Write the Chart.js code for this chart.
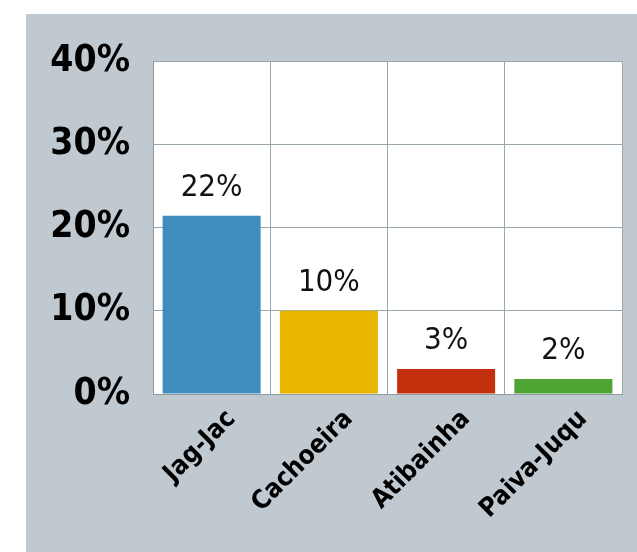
<!DOCTYPE html>
<html>
<head>
<meta charset="utf-8">
<script src="https://cdn.jsdelivr.net/npm/chart.js"></script>
<style>
  html, body { margin: 0; padding: 0; background: #fff; }
  #wrap { width: 637px; height: 552px; }
</style>
</head>
<body>
<div id="wrap"><canvas id="chart"></canvas></div>
<script>
// chart data
const categories = ['Jag-Jac', 'Cachoeira', 'Atibainha', 'Paiva-Juqu'];
const shares = [21.4, 10, 3, 1.8];
const shareLabels = ['22%', '10%', '3%', '2%'];
const barColors = ['#408cbe', '#e9b600', '#c4300e', '#4ea333'];
const yTicks = [0, 10, 20, 30, 40];

const FONT = '"DejaVu Sans Condensed", "Liberation Sans", sans-serif';

// grey panel behind everything, white plot area
const panelPlugin = {
  id: 'panel',
  beforeDraw(chart) {
    const { ctx, chartArea: a } = chart;
    ctx.save();
    ctx.fillStyle = '#fff';
    ctx.fillRect(0, 0, chart.width, chart.height);
    ctx.fillStyle = '#bfc9cf';
    ctx.fillRect(26, 14, chart.width - 26, chart.height - 14);
    ctx.fillStyle = '#fff';
    ctx.fillRect(a.left, a.top, a.right - a.left, a.bottom - a.top);
    ctx.restore();
  }
};

// value labels above the bars
const valueLabels = {
  id: 'valueLabels',
  afterDatasetsDraw(chart) {
    const { ctx } = chart;
    const meta = chart.getDatasetMeta(0);
    ctx.save();
    ctx.fillStyle = '#111';
    ctx.font = '31px ' + FONT;
    ctx.textAlign = 'center';
    ctx.textBaseline = 'alphabetic';
    meta.data.forEach((bar, i) => {
      ctx.fillText(shareLabels[i], bar.x, bar.y - 20);
    });
    ctx.restore();
  }
};

new Chart(document.getElementById('chart'), {
  type: 'bar',
  data: {
    labels: categories,
    datasets: [{
      data: shares,
      backgroundColor: barColors,
      borderWidth: 0,
      categoryPercentage: 1,
      barPercentage: 0.836
    }]
  },
  options: {
    responsive: true,
    maintainAspectRatio: false,
    animation: false,
    layout: { padding: { left: 0, top: 61, right: 15, bottom: 0 } },
    plugins: {
      legend: { display: false },
      tooltip: { enabled: false }
    },
    scales: {
      x: {
        grid: { color: '#9ba7af', lineWidth: 1, drawTicks: false, offset: true },
        border: { color: '#8f9aa2', width: 1 },
        ticks: {
          color: '#000',
          font: { family: FONT, size: 26, weight: 'bold' },
          minRotation: 45,
          maxRotation: 45,
          padding: 10,
          labelOffset: 20
        },
        afterFit(scale) { scale.height = 158; }
      },
      y: {
        min: 0,
        max: 40,
        afterBuildTicks(scale) { scale.ticks = yTicks.map(v => ({ value: v })); },
        grid: { color: '#9ba7af', lineWidth: 1, drawTicks: false },
        border: { color: '#8f9aa2', width: 1 },
        ticks: {
          color: '#000',
          font: { family: FONT, size: 37, weight: 'bold' },
          padding: 23,
          callback: v => v + '%'
        },
        afterFit(scale) { scale.width = 153; }
      }
    }
  },
  plugins: [panelPlugin, valueLabels]
});
</script>
</body>
</html>
